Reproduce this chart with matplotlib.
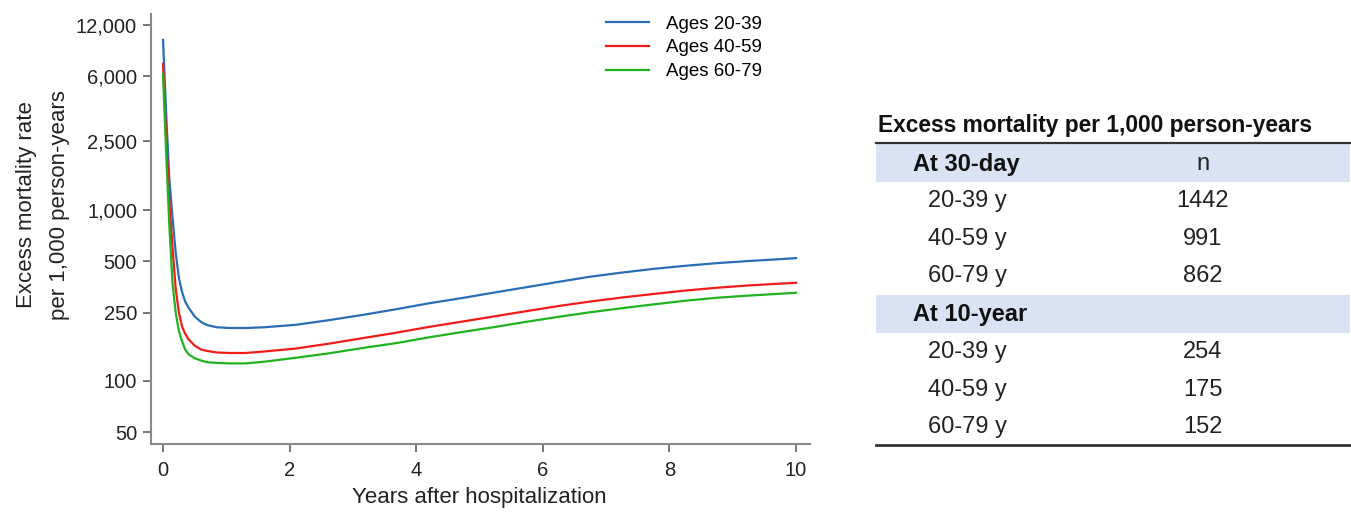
import matplotlib
matplotlib.use("Agg")
import matplotlib.pyplot as plt
from matplotlib.patches import Rectangle
from matplotlib.ticker import FixedLocator, NullLocator

# data
years = [0.0, 0.05, 0.1, 0.15, 0.2, 0.25, 0.3, 0.35, 0.4, 0.5, 0.6, 0.7, 0.85, 1.05, 1.3,
         1.6, 2.1, 2.6, 3.15, 3.7, 4.2, 4.75, 5.25, 5.75, 6.25, 6.75, 7.25, 7.75, 8.25,
         8.75, 9.25, 9.75, 10.0]
rate_20_39 = [9800, 3600, 1500, 900, 560, 400, 330, 290, 268, 237, 220, 211, 205, 203, 203,
              205, 212, 225, 242, 262, 283, 305, 328, 352, 378, 405, 428, 450, 469,
              486, 500, 513, 520]
rate_40_59 = [7100, 2600, 1100, 600, 345, 250, 207, 188, 175, 160, 152, 149, 146, 145, 145,
              148, 154, 164, 177, 191, 206, 222, 238, 255, 273, 290, 306, 321, 336,
              349, 360, 369, 373]
rate_60_79 = [6200, 2100, 800, 370, 250, 195, 170, 152, 143, 135, 131, 128, 127, 126, 126,
              129, 136, 144, 155, 166, 179, 193, 206, 221, 236, 251, 265, 279, 293,
              305, 314, 322, 326]
series_labels = ["Ages 20-39", "Ages 40-59", "Ages 60-79"]
series_colors = ["#2a6db5", "#f01c1c", "#1fb41f"]

y_ticks = [50, 100, 250, 500, 1000, 2500, 6000, 12000]
x_ticks = [0, 2, 4, 6, 8, 10]

table_title = "Excess mortality per 1,000 person-years"
group_labels = ["At 30-day", "At 10-year"]
age_groups = ["20-39 y", "40-59 y", "60-79 y"]
rate_30day = [1442, 991, 862]
rate_10year = [254, 175, 152]
value_header = "n"

W, H = 1351, 512
plt.rcParams["font.family"] = ["Liberation Sans", "DejaVu Sans"]
fig = plt.figure(figsize=(W / 100, H / 100), dpi=100)

# --- line chart ---
ax = fig.add_axes([151 / W, 1 - 444 / H, (810 - 151) / W, (444 - 14) / H])
for vals, lab, col in zip([rate_20_39, rate_40_59, rate_60_79], series_labels, series_colors):
    ax.plot(years, vals, color=col, lw=1.6, label=lab, solid_joinstyle="round")

ax.set_yscale("log")
ax.set_ylim(42.6, 13900)
ax.set_xlim(-0.19, 10.22)
ax.yaxis.set_major_locator(FixedLocator(y_ticks))
ax.yaxis.set_minor_locator(NullLocator())
ax.set_yticklabels([f"{t:,}" for t in y_ticks])
ax.set_xticks(x_ticks)
for s in ["top", "right"]:
    ax.spines[s].set_visible(False)
for s in ["left", "bottom"]:
    ax.spines[s].set_color("#8a8a8a")
    ax.spines[s].set_linewidth(1.5)
ax.tick_params(axis="both", direction="out", length=6, width=1.3, color="#6a6a6a",
               labelsize=14.5, labelcolor="#222222")
ax.tick_params(axis="y", pad=4)
ax.tick_params(axis="x", pad=6)

fig.text(43 / W, 1 - 205 / H, "Excess mortality rate\nper 1,000 person-years",
         rotation=90, ha="center", va="center", fontsize=16, linespacing=1.75, color="#222222")
fig.text(479 / W, 1 - 497 / H, "Years after hospitalization", ha="center", va="center",
         fontsize=16, color="#222222")

ax.legend(loc="upper left", bbox_to_anchor=(598 / W, 1 - 8 / H), bbox_transform=fig.transFigure,
          frameon=False, fontsize=13.5, handlelength=2.3, handletextpad=0.9, labelspacing=0.36,
          borderaxespad=0)

# --- table on the right, laid out in pixel coords ---
tax = fig.add_axes([0, 0, 1, 1])
tax.set_xlim(0, W)
tax.set_ylim(H, 0)
tax.axis("off")

band = "#dae3f3"
tax.text(878, 132, table_title, fontsize=16.4, fontweight="bold", ha="left", va="baseline",
         color="#111111")
tax.plot([876, 1350], [143, 143], color="#333333", lw=1.6)

row_h = 37.6
band_tops = [144, 295]
group_rows = [rate_30day, rate_10year]
for gi, (glab, vals) in enumerate(zip(group_labels, group_rows)):
    top = band_tops[gi]
    tax.add_patch(Rectangle((876, top), 1350 - 876, row_h, color=band, lw=0))
    tax.text(913, top + 26.5, glab, fontsize=17, fontweight="bold", ha="left",
             va="baseline", color="#111111")
    if gi == 0:
        tax.text(1203, top + 26.5, value_header, fontsize=17, ha="center",
                 va="baseline", color="#222222")
    for ri, (age, v) in enumerate(zip(age_groups, vals)):
        base = top + row_h + 25.5 + ri * row_h
        tax.text(928, base, age, fontsize=17, ha="left", va="baseline", color="#222222")
        tax.text(1203, base, str(v), fontsize=17, ha="center", va="baseline", color="#222222")

tax.plot([876, 1350], [444.5, 444.5], color="#333333", lw=2)

fig.savefig("out.png", dpi=100)
